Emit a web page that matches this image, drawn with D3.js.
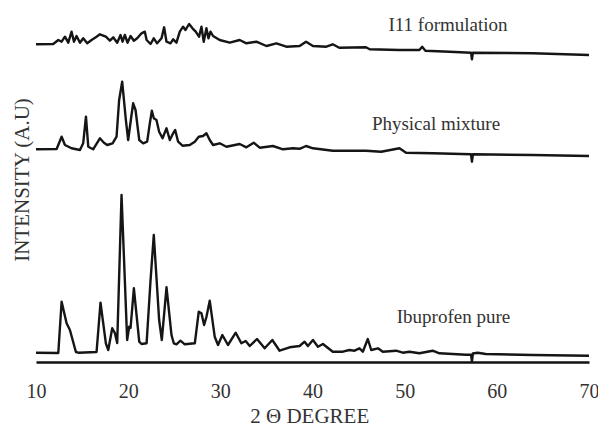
<!DOCTYPE html>
<html>
<head>
<meta charset="utf-8">
<script src="https://cdn.jsdelivr.net/npm/d3@7"></script>
<style>
  body { margin: 0; background: #fff; }
  text { font-family: "Liberation Serif", "Times New Roman", serif; fill: #333; }
</style>
</head>
<body>
<div id="chart"></div>
<script>
// Ticks and series labels
const xTicks = [10, 20, 30, 40, 50, 60, 70];
const seriesNames = ["Ibuprofen pure", "Physical mixture", "I11 formulation"];
// vertical offset of each pattern (intensity units)
const offsets = [0, 210, 315];

// Ibuprofen pure: [2theta, intensity]
const ibuprofen = [
  [10, 9.3], [12.42, 9], [12.78, 60.3], [13.32, 38.7], [13.68, 32], [14.33, 10],
  [14.6, 9.3], [16.57, 10], [17.0, 59.3], [17.58, 18.7], [17.84, 12], [18.27, 33.7],
  [18.56, 29], [18.81, 19], [19.28, 167], [19.89, 22], [20.11, 35.3], [20.26, 34],
  [20.62, 73.7], [21.2, 20.3], [21.45, 18], [22.0, 18.7], [22.43, 82], [22.78, 127],
  [23.36, 42], [23.65, 22], [24.16, 74.7], [24.7, 27], [24.95, 18.7], [25.24, 17.7],
  [25.67, 21.3], [26.14, 17.7], [27.23, 18.7], [27.66, 50.3], [27.95, 48.7], [28.24, 37],
  [28.49, 45], [28.85, 61.3], [29.39, 25.3], [29.75, 17], [30.22, 27], [30.83, 17],
  [31.67, 29.3], [32.28, 18.7], [32.75, 21], [33.19, 16], [33.98, 23], [34.81, 13.7],
  [35.64, 22], [36.43, 11.3], [37.52, 14.7], [38.6, 16], [39.14, 20.3], [39.5, 16],
  [40.05, 22], [40.59, 15.3], [41.13, 18], [42.2, 10.3], [43.3, 10.3], [44.0, 12],
  [44.56, 11.3], [45.1, 13.7], [45.46, 10.3], [46.0, 23], [46.37, 12], [47.1, 13.7],
  [47.63, 10.3], [49.07, 11.3], [49.8, 9.3], [50.5, 10.3], [51.6, 8.7], [53.04, 11.3],
  [53.77, 8.7], [56.66, 7.3], [57.2, 7.3], [57.3, 0.5], [57.4, 8.5], [57.92, 9.3],
  [58.8, 8], [63.9, 7], [70, 6.3]
];

// Physical mixture
const physicalMixture = [
  [10, 2.7], [12.24, 3], [12.78, 15.3], [13.14, 7], [13.86, 3.7], [14.77, 2],
  [15.12, 8.7], [15.42, 35.3], [15.67, 5.3], [16.2, 2.7], [16.93, 13.7], [17.37, 9.3],
  [17.72, 7], [18.31, 8.7], [18.74, 15.3], [19.02, 52], [19.35, 70.3], [19.75, 32],
  [20.0, 12], [20.29, 32], [20.54, 48.7], [20.8, 42], [21.2, 12], [21.63, 8.7],
  [22.06, 10.3], [22.35, 28.7], [22.57, 41.3], [22.78, 33.7], [23.07, 32], [23.36, 20.3],
  [23.73, 13.7], [24.16, 23.7], [24.52, 12], [24.88, 18.7], [25.1, 22], [25.42, 10.3],
  [25.89, 6.3], [26.68, 7], [27.23, 10.3], [27.66, 15.3], [28.12, 16], [28.49, 18.7],
  [28.85, 12], [29.21, 7], [29.93, 8.7], [30.66, 5.3], [32.1, 8], [32.83, 4.7],
  [33.62, 9.3], [34.27, 4.3], [35.71, 6], [36.8, 2.7], [37.88, 3.7], [38.6, 3.2],
  [39.3, 6], [40.05, 3.7], [42.2, 1.3], [45.8, 1.3], [47.45, 0.3], [49.44, 3.7],
  [50.15, -0.7], [53.04, -1.3], [57.2, -2.3], [57.3, -9.7], [57.4, -2.3], [63.9, -3],
  [70, -4]
];

// I11 formulation
const formulation = [
  [10, 2.7], [11.87, 3], [12.42, 7], [12.78, 5.3], [13.14, 10.3], [13.5, 4.3],
  [13.86, 15.3], [14.12, 5.3], [14.4, 11], [14.77, 4.3], [15.12, 8.7], [15.56, 3.7],
  [16.03, 7], [16.57, 10.3], [16.93, 12.7], [17.58, 10.3], [18.02, 6.3], [18.38, 9.7],
  [18.81, 4.3], [19.17, 12], [19.39, 5.3], [19.64, 12], [19.93, 4.3], [20.26, 11],
  [20.62, 6.3], [20.98, 8.7], [21.45, 13.7], [21.81, 15.3], [22.0, 7], [22.43, 3],
  [22.78, 8.7], [23.14, 3.7], [23.62, 8.7], [23.9, 19.7], [24.16, 5.3], [24.59, 3.7],
  [24.88, 7.7], [25.24, 4.3], [25.6, 15.3], [25.96, 20.3], [26.22, 17], [26.61, 23],
  [26.98, 18.7], [27.33, 15.3], [27.69, 10.3], [27.95, 20.3], [28.2, 5.3], [28.49, 18.7],
  [28.71, 8.7], [28.93, 15.3], [29.21, 11], [29.93, 7], [31.02, 4.3], [32.1, 7],
  [32.83, 3.7], [33.91, 5.3], [35.0, 1], [36.08, 3.7], [37.16, 0.3], [38.6, 1],
  [39.3, 5.3], [40.05, 1], [41.5, 0.3], [42.2, 2.7], [42.9, -0.7], [45.8, -0.3],
  [46.2, -2.3], [49.4, -3], [51.6, -3], [51.9, 0.3], [52.25, -3.7], [54.85, -4.7],
  [57.2, -5.7], [57.3, -12.3], [57.4, -5.7], [63.9, -6.3], [70, -8]
];

const series = [ibuprofen, physicalMixture, formulation];

// Margins and dimensions
const margin = { top: 32, right: 8, bottom: 66, left: 36 };
const width = 598 - margin.left - margin.right;
const height = 428 - margin.top - margin.bottom;

const svg = d3.select("#chart")
    .append("svg")
    .attr("width", width + margin.left + margin.right)
    .attr("height", height + margin.top + margin.bottom)
  .append("g")
    .attr("transform", `translate(${margin.left}, ${margin.top})`);

// Scales
const x = d3.scaleLinear().domain([10, 70]).range([0, width - 1]);
const y = d3.scaleLinear().domain([0, 330]).range([height, 0]);

// X axis: plain line with numbers below, no tick marks
const xAxis = svg.append("g")
    .attr("transform", `translate(0, ${height})`)
    .call(d3.axisBottom(x).tickValues(xTicks).tickSize(0).tickPadding(22).tickFormat(d3.format("d")));
xAxis.select(".domain").attr("stroke", "#111").attr("stroke-width", 2.5);
xAxis.selectAll(".tick text")
    .attr("font-size", 20)
    .attr("fill", "#333");

// Diffraction patterns
series.forEach((data, i) => {
    const line = d3.line()
        .x(d => x(d[0]))
        .y(d => y(d[1] + offsets[i]));
    svg.append("path")
        .datum(data)
        .attr("fill", "none")
        .attr("stroke", "#151515")
        .attr("stroke-width", 2.4)
        .attr("stroke-linejoin", "round")
        .attr("d", line);
});

// Series labels (2theta, intensity of baseline)
const labelPos = [[55.3, 39.3], [53.4, 232.5], [54.7, 331]];
seriesNames.forEach((name, i) => {
    svg.append("text")
        .attr("x", x(labelPos[i][0]))
        .attr("y", y(labelPos[i][1]))
        .attr("text-anchor", "middle")
        .attr("font-size", 19)
        .text(name);
});

// Axis titles
svg.append("text")
    .attr("x", x(39.7))
    .attr("y", height + 61)
    .attr("text-anchor", "middle")
    .attr("font-size", 21)
    .text("2 Θ DEGREE");

svg.append("text")
    .attr("transform", `translate(${-margin.left + 29}, ${y(182)}) rotate(-90)`)
    .attr("text-anchor", "middle")
    .attr("font-size", 21)
    .text("INTENSITY (A.U)");
</script>
</body>
</html>
